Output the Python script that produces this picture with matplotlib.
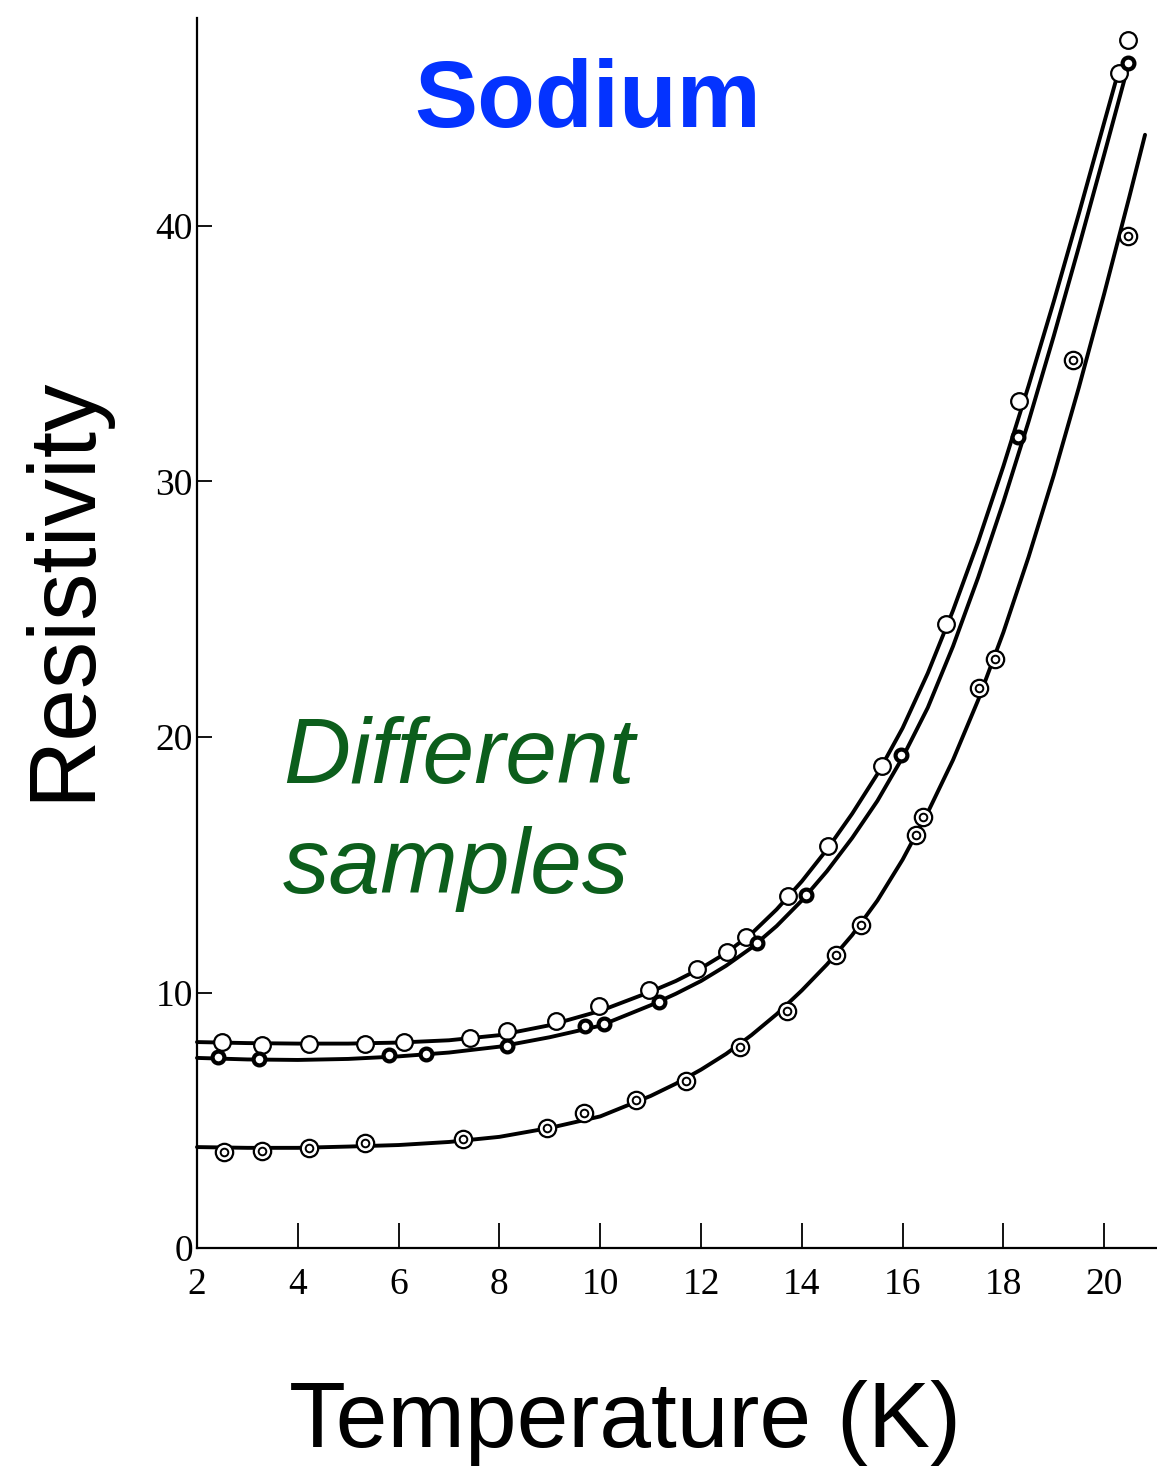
import matplotlib
matplotlib.use("Agg")
import matplotlib.pyplot as plt

# ---- measured points (temperature in K, resistivity in arbitrary units) ----
# sample 1: open circles
temp_a = [2.50, 3.29, 4.22, 5.33, 6.11, 7.42, 8.15, 9.12, 9.98, 10.97, 11.92,
          12.52, 12.89, 13.73, 14.52, 15.59, 16.86, 18.31, 20.29, 20.47]
res_a = [8.06, 7.95, 7.98, 7.98, 8.06, 8.22, 8.49, 8.88, 9.47, 10.10, 10.92,
         11.59, 12.17, 13.78, 15.73, 18.86, 24.42, 33.15, 45.99, 47.28]

# sample 2: small dark rings
temp_b = [2.42, 3.23, 5.81, 6.54, 8.15, 9.70, 10.08, 11.17, 13.11, 14.08,
          15.97, 18.29, 20.47]
res_b = [7.48, 7.40, 7.55, 7.59, 7.91, 8.69, 8.77, 9.63, 11.94, 13.82,
         19.30, 31.74, 46.38]

# sample 3: double rings
temp_c = [2.54, 3.29, 4.22, 5.33, 7.28, 8.94, 9.68, 10.71, 11.70, 12.77,
          13.71, 14.68, 15.17, 16.27, 16.40, 17.52, 17.83, 19.38, 20.47]
res_c = [3.76, 3.80, 3.91, 4.11, 4.27, 4.70, 5.28, 5.79, 6.54, 7.87,
         9.28, 11.47, 12.64, 16.16, 16.87, 21.92, 23.05, 34.75, 39.61]

# ---- smooth curves drawn through each sample ----
curve_t_a = [2, 3, 4, 5, 6, 7, 8, 9, 10, 11, 11.5, 12, 12.5, 13, 13.5, 14,
             14.5, 15, 15.5, 16, 16.5, 17, 17.5, 18, 18.5, 19, 19.5, 20, 20.29]
curve_r_a = [8.06, 8.02, 8.00, 8.00, 8.04, 8.13, 8.33, 8.72, 9.28, 10.03,
             10.45, 10.95, 11.55, 12.30, 13.25, 14.35, 15.60, 17.00, 18.55,
             20.35, 22.50, 24.95, 27.65, 30.60, 33.75, 37.05, 40.50, 44.05,
             46.10]

curve_t_b = [2, 3, 4, 5, 6, 7, 8, 9, 10, 11, 11.5, 12, 12.5, 13, 13.5, 14,
             14.5, 15, 15.5, 16, 16.5, 17, 17.5, 18, 18.5, 19, 19.5, 20, 20.47]
curve_r_b = [7.44, 7.38, 7.36, 7.40, 7.50, 7.65, 7.88, 8.25, 8.70, 9.50,
             9.95, 10.45, 11.05, 11.75, 12.60, 13.60, 14.75, 16.05, 17.50,
             19.20, 21.15, 23.55, 26.25, 29.20, 32.35, 35.70, 39.20, 42.80,
             46.23]

curve_t_c = [2, 3, 4, 5, 6, 7, 8, 9, 10, 11, 11.5, 12, 12.5, 13, 13.5, 14,
             14.5, 15, 15.5, 16, 16.5, 17, 17.5, 18, 18.5, 19, 19.5, 20, 20.5,
             20.81]
curve_r_c = [3.95, 3.92, 3.92, 3.97, 4.03, 4.15, 4.35, 4.70, 5.15, 5.95,
             6.43, 6.98, 7.60, 8.33, 9.15, 10.08, 11.10, 12.25, 13.60, 15.20,
             17.05, 19.10, 21.45, 24.10, 27.05, 30.25, 33.70, 37.35, 41.15,
             43.57]

x_ticks = [2, 4, 6, 8, 10, 12, 14, 16, 18, 20]
y_ticks = [0, 10, 20, 30, 40]

W, H = 1157, 1471
fig = plt.figure(figsize=(W / 100, H / 100), dpi=100)
ax = fig.add_axes([197 / W, 223 / H, 960 / W, 1230 / H])
ax.set_xlim(2, 2 + 960 / 50.4)
ax.set_ylim(0, 1230 / 25.55)

# curves
for ct, cr in [(curve_t_a, curve_r_a), (curve_t_b, curve_r_b),
               (curve_t_c, curve_r_c)]:
    ax.plot(ct, cr, color="black", lw=2.8, solid_capstyle="round",
            solid_joinstyle="round", zorder=2, clip_on=False)

# data markers
ax.plot(temp_a, res_a, "o", ms=12, mfc="white", mec="black", mew=1.6,
        zorder=3, clip_on=False)
ax.plot(temp_b, res_b, "o", ms=8.5, mfc="white", mec="black", mew=3.0,
        zorder=3, clip_on=False)
ax.plot(temp_c, res_c, "o", ms=12.5, mfc="white", mec="black", mew=1.6,
        zorder=3, clip_on=False)
ax.plot(temp_c, res_c, "o", ms=5.5, mfc="none", mec="black", mew=1.4,
        zorder=4, clip_on=False)

# axes styling
for side in ("top", "right"):
    ax.spines[side].set_visible(False)
for side in ("left", "bottom"):
    ax.spines[side].set_linewidth(1.6)
    ax.spines[side].set_color("black")

serif = ["Liberation Serif", "DejaVu Serif"]
ax.set_xticks(x_ticks)
ax.set_xticklabels([str(v) for v in x_ticks], family=serif, fontsize=27)
ax.set_yticks(y_ticks)
ax.set_yticklabels([str(v) for v in y_ticks], family=serif, fontsize=27)
ax.tick_params(axis="x", direction="in", length=18, width=1.3, pad=14)
ax.tick_params(axis="y", direction="in", length=11, width=1.3, pad=3)

sans = ["Liberation Sans", "DejaVu Sans"]
fig.text(588 / W, 1 - 127 / H, "Sodium", ha="center", va="baseline",
         fontsize=68, weight="bold", color="#0433ff", family=sans)
fig.text(283 / W, 1 - 783 / H, "Different", ha="left", va="baseline",
         fontsize=67, style="italic", color="#0c5e1c", family=sans)
fig.text(283 / W, 1 - 893 / H, "samples", ha="left", va="baseline",
         fontsize=67, style="italic", color="#0c5e1c", family=sans)
fig.text(88 / W, 1 - 588 / H, "Resistivity", rotation=90,
         rotation_mode="anchor", ha="center", va="baseline",
         fontsize=68, color="black", family=sans)
fig.text(625 / W, 1 - 1447 / H, "Temperature (K)", ha="center",
         va="baseline", fontsize=67, color="black", family=sans)

fig.savefig("out.png", dpi=100, facecolor="white")
